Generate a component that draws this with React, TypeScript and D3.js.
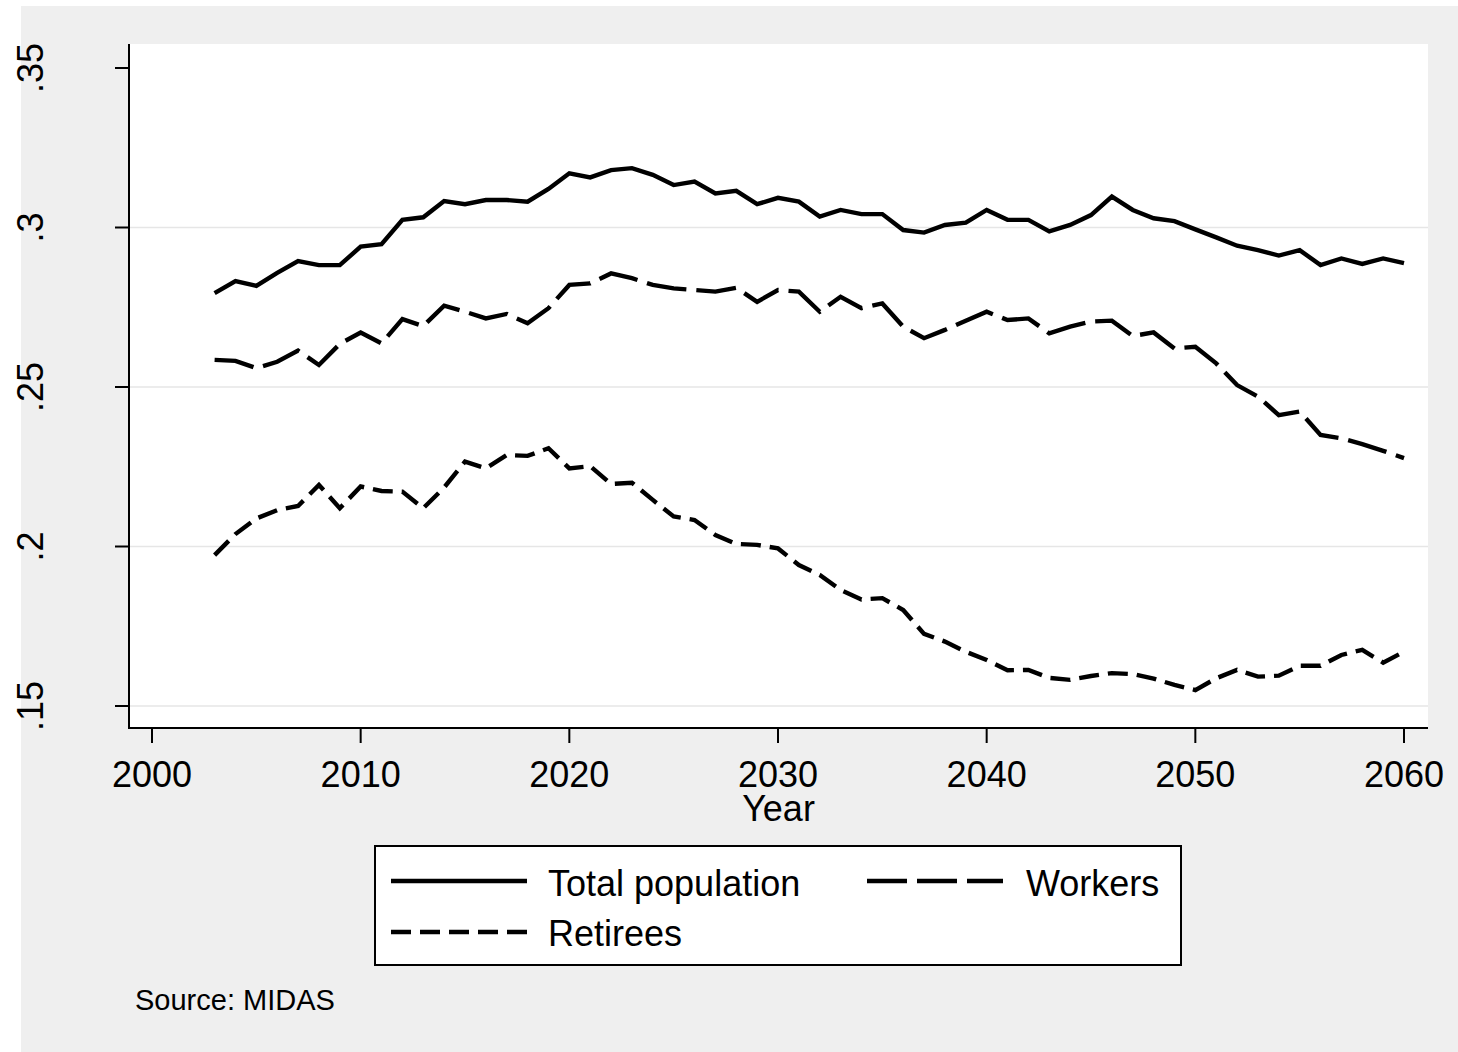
import React from "react";
import * as d3 from "d3";

const years = [
  2003, 2004, 2005, 2006, 2007, 2008, 2009, 2010, 2011, 2012, 2013, 2014, 2015, 2016, 2017,
  2018, 2019, 2020, 2021, 2022, 2023, 2024, 2025, 2026, 2027, 2028, 2029, 2030, 2031, 2032,
  2033, 2034, 2035, 2036, 2037, 2038, 2039, 2040, 2041, 2042, 2043, 2044, 2045, 2046, 2047,
  2048, 2049, 2050, 2051, 2052, 2053, 2054, 2055, 2056, 2057, 2058, 2059, 2060,
];

const totalPopulation = [
  0.2794, 0.2832, 0.2817, 0.2858, 0.2895, 0.2882, 0.2882, 0.294, 0.2948, 0.3024, 0.3032, 0.3083,
  0.3073, 0.3086, 0.3086, 0.3081, 0.3121, 0.317, 0.3157, 0.318, 0.3186, 0.3165, 0.3133, 0.3144,
  0.3107, 0.3115, 0.3073, 0.3093, 0.3081, 0.3034, 0.3055, 0.3042, 0.3042, 0.2992, 0.2984, 0.3008,
  0.3015, 0.3055, 0.3024, 0.3024, 0.2988, 0.3008, 0.3039, 0.3097, 0.3055, 0.3029, 0.302, 0.2994,
  0.2969, 0.2943, 0.2929, 0.2912, 0.2929, 0.2882, 0.2903, 0.2886, 0.2903, 0.2888,
];

const workers = [
  0.2585, 0.2582, 0.2559, 0.2579, 0.2614, 0.2569, 0.2635, 0.2671, 0.2637, 0.2713, 0.2691, 0.2755,
  0.2736, 0.2715, 0.2729, 0.27, 0.2747, 0.282, 0.2825, 0.2856, 0.2841, 0.282, 0.2809, 0.2804,
  0.2799, 0.2811, 0.2767, 0.2804, 0.2799, 0.2736, 0.2783, 0.2747, 0.2762, 0.2689, 0.2653, 0.2679,
  0.2708, 0.2736, 0.271, 0.2715, 0.2668, 0.2689, 0.2705, 0.2708, 0.266, 0.2671, 0.2621, 0.2626,
  0.2574, 0.2506, 0.247, 0.2412, 0.2423, 0.235, 0.2339, 0.2321, 0.23, 0.2277,
];

const retirees = [
  0.1973, 0.2039, 0.2088, 0.2114, 0.2127, 0.2193, 0.212, 0.2188, 0.2174, 0.2172, 0.212, 0.2185,
  0.2266, 0.2245, 0.2287, 0.2284, 0.2308, 0.2245, 0.2252, 0.2196, 0.22, 0.2146, 0.2094, 0.2083,
  0.2036, 0.2008, 0.2005, 0.1994, 0.1942, 0.1911, 0.1864, 0.1834, 0.1838, 0.1801, 0.1726, 0.1702,
  0.167, 0.1644, 0.1612, 0.1613, 0.1588, 0.1582, 0.1594, 0.1603, 0.16, 0.1586, 0.1566, 0.155,
  0.1587, 0.1613, 0.1592, 0.1595, 0.1626, 0.1626, 0.166, 0.1676, 0.1636, 0.167,
];

const xTicks = [2000, 2010, 2020, 2030, 2040, 2050, 2060];
const yTicks = [0.15, 0.2, 0.25, 0.3, 0.35];
const yTickLabels = [".15", ".2", ".25", ".3", ".35"];
const gridTicks = [0.15, 0.2, 0.25, 0.3];

const seriesNames = ["Total population", "Workers", "Retirees"];
const seriesDash = ["none", "40 10", "20 9"];

const FONT = "'Liberation Sans', Arial, Helvetica, sans-serif";

export default function App() {
  const W = 1458;
  const H = 1052;
  const plot = { left: 129, right: 1428, top: 44, bottom: 728 };

  const x = d3.scaleLinear().domain([2000, 2060]).range([152, 1404]);
  const y = d3.scaleLinear().domain([0.15, 0.35]).range([706, 68]);

  const seriesData = [totalPopulation, workers, retirees];
  const line = d3
    .line<number>()
    .x((_, i) => x(years[i]))
    .y((d) => y(d));

  const legend = [
    { x1: 391, x2: 527, y: 881, tx: 548, ty: 896 },
    { x1: 867, x2: 1003, y: 881, tx: 1026, ty: 896 },
    { x1: 391, x2: 527, y: 932, tx: 548, ty: 946 },
  ];

  return (
    <svg
      width={W}
      height={H}
      style={{ position: "absolute", left: 0, top: 0, display: "block" }}
      fontFamily={FONT}
    >
      <rect x={0} y={0} width={W} height={H} fill="#ffffff" />
      <rect x={21} y={6} width={W - 21} height={H - 6} fill="#efefef" />
      <rect
        x={plot.left}
        y={plot.top}
        width={plot.right - plot.left}
        height={plot.bottom - plot.top}
        fill="#ffffff"
      />
      {gridTicks.map((t) => (
        <line
          key={"g" + t}
          x1={plot.left}
          x2={plot.right}
          y1={y(t)}
          y2={y(t)}
          stroke="#e6e6e6"
          strokeWidth={1.6}
        />
      ))}
      {seriesData.map((s, i) => (
        <path
          key={seriesNames[i]}
          d={line(s) || ""}
          fill="none"
          stroke="#000"
          strokeWidth={4.4}
          strokeDasharray={seriesDash[i]}
          strokeLinejoin="miter"
        />
      ))}
      {/* axes */}
      <line x1={plot.left} x2={plot.left} y1={plot.top} y2={plot.bottom + 1} stroke="#000" strokeWidth={2} />
      <line x1={plot.left - 1} x2={plot.right} y1={plot.bottom} y2={plot.bottom} stroke="#000" strokeWidth={2} />
      {yTicks.map((t, i) => (
        <g key={"y" + t}>
          <line x1={115} x2={plot.left} y1={y(t)} y2={y(t)} stroke="#000" strokeWidth={2} />
          <text
            transform={`translate(43, ${y(t)}) rotate(-90)`}
            textAnchor="middle"
            fontSize={36}
            fill="#000"
          >
            {yTickLabels[i]}
          </text>
        </g>
      ))}
      {xTicks.map((t) => (
        <g key={"x" + t}>
          <line x1={x(t)} x2={x(t)} y1={plot.bottom} y2={743} stroke="#000" strokeWidth={2} />
          <text x={x(t)} y={787} textAnchor="middle" fontSize={36} fill="#000">
            {t}
          </text>
        </g>
      ))}
      <text x={(plot.left + plot.right) / 2} y={821} textAnchor="middle" fontSize={36} fill="#000">
        Year
      </text>
      {/* legend */}
      <rect x={375} y={846} width={806} height={119} fill="#ffffff" stroke="#000" strokeWidth={2} />
      {legend.map((l, i) => (
        <g key={"l" + i}>
          <line
            x1={l.x1}
            x2={l.x2}
            y1={l.y}
            y2={l.y}
            stroke="#000"
            strokeWidth={4.4}
            strokeDasharray={seriesDash[i]}
          />
          <text x={l.tx} y={l.ty} fontSize={36} fill="#000">
            {seriesNames[i]}
          </text>
        </g>
      ))}
      <text x={135} y={1010} fontSize={29} fill="#000">
        Source: MIDAS
      </text>
    </svg>
  );
}
